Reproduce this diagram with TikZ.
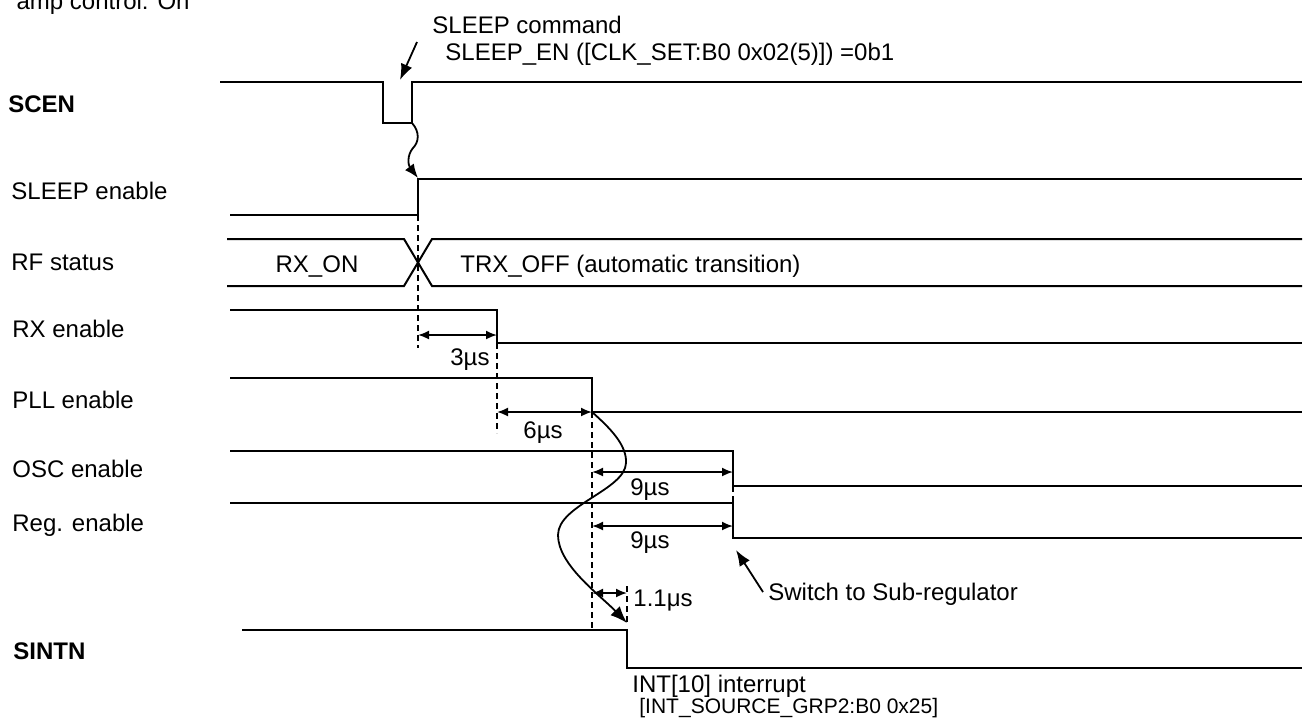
\documentclass[tikz,border=0pt]{standalone}
\usepackage{fontspec}
\setmainfont{Liberation Sans}
\usetikzlibrary{arrows.meta,positioning}

\begin{document}
\begin{tikzpicture}[x=0.5pt,y=-0.5pt,
      every node/.style={font=\fontsize{12}{14}\selectfont,inner sep=0pt,anchor=base west},
      signame/.style={font=\fontsize{12}{14}\selectfont\bfseries},
      regnote/.style={font=\fontsize{10.5}{12}\selectfont},
      wave/.style={line width=1pt},
      guide/.style={line width=0.8pt,dash pattern=on 3pt off 2pt},
      dim/.style={{Latex[length=5.5pt,width=4.5pt]}-{Latex[length=5.5pt,width=4.5pt]},line width=0.9pt},
      pointer/.style={-{Latex[length=8pt,width=6pt]},line width=0.9pt}]
      \useasboundingbox (0,0) rectangle (1307,720);
      % signal names
      \node[anchor=base east] (ampnote) at (190,9) {amp control: On};
      \node[signame] (scen) at (8,112) {SCEN};
      \node (sleepen) at (11,199) {SLEEP enable};
      \node (rfstat) at (11,270) {RF status};
      \node (rxen) at (12,337) {RX enable};
      \node (pllen) at (12,408) {PLL enable};
      \node (oscen) at (12,477) {OSC enable};
      \node (regen) at (12,531) {Reg. enable};
      \node[signame] (sintn) at (13,659) {SINTN};
      % waveforms
      \draw[wave] (220,82) -| (383,123) -| (412,82) -- (1302,82);
      \draw[wave] (230,215) -| (418,179) -- (1302,179);
      \draw[wave] (227,239) -- (404,239) -- (432,286) -- (1302,286);
      \draw[wave] (227,286) -- (404,286) -- (432,239) -- (1302,239);
      \draw[wave] (230,310) -| (497,343) -- (1302,343);
      \draw[wave] (230,378) -| (592,412) -- (1302,412);
      \draw[wave] (230,451) -| (733,486) -- (1302,486);
      \draw[wave] (230,503) -| (733,538) -- (1302,538);
      \draw[wave] (242,630) -| (627,668) -- (1302,668);
      \node[anchor=base] (rxon) at (317,272) {RX\_ON};
      \node (trxoff) at (460,272) {TRX\_OFF (automatic transition)};
      % edges
      \coordinate (sleepup) at (418,215);
      \coordinate (rxdown) at (497,343);
      \coordinate (plldown) at (592,412);
      \coordinate (oscdown) at (733,486);
      \coordinate (intdown) at (627,623);
      \draw[guide] (sleepup) -- (418,348);
      \draw[guide] (rxdown) -- (497,433);
      \draw[guide] (plldown) -- (592,630);
      \draw[guide] (oscdown) -- (733,503);
      \draw[guide] (627,586) -- (intdown);
      % delays
      \draw[dim] (418,335) -- (497,335);
      \draw[dim] (497,412) -- (plldown);
      \draw[dim] (592,472) -- (733,472);
      \draw[dim] (592,526) -- (733,526);
      \draw[dim] (592,593) -- (627,593);
      \node (d3) at (450,365) {3µs};
      \node (d6) at (523,438) {6µs};
      \node (d9a) at (630,495) {9µs};
      \node (d9b) at (630,548) {9µs};
      \node (d11) at (633,606) {1.1μs};
      % command and notes
      \node (cmd) at (432,33) {SLEEP command};
      \node (cmdreg) at (445,60) {SLEEP\_EN ([CLK\_SET:B0 0x02(5)]) =0b1};
      \coordinate (cmdtail) at (417,42);
      \coordinate (pulse) at (400,80);
      \draw[pointer] (cmdtail) -- (pulse);
      \coordinate (scenup) at (412,123);
      \coordinate (sleeptip) at (418,178);
      \draw[pointer,-{Latex[length=7pt,width=5.5pt]}] (scenup) .. controls (420,132) and (419,142) .. (413,148)
        .. controls (407,155) and (408,165) .. (sleeptip);
      \draw[pointer,-{Latex[length=8.5pt,width=6.5pt]}] (plldown) .. controls (610,428) and (627,445) .. (626,463)
        .. controls (625,490) and (558,505) .. (558,535)
        .. controls (558,565) and (600,595) .. (intdown);
      \node (switch) at (768,600) {Switch to Sub-regulator};
      \coordinate (swtail) at (763,592);
      \coordinate (swtip) at (736,550);
      \draw[pointer] (swtail) -- (swtip);
      \node (intnote) at (632,692) {INT[10] interrupt};
      \node[regnote] (intreg) at (639,713) {[INT\_SOURCE\_GRP2:B0 0x25]};
    \end{tikzpicture}
\end{document}
